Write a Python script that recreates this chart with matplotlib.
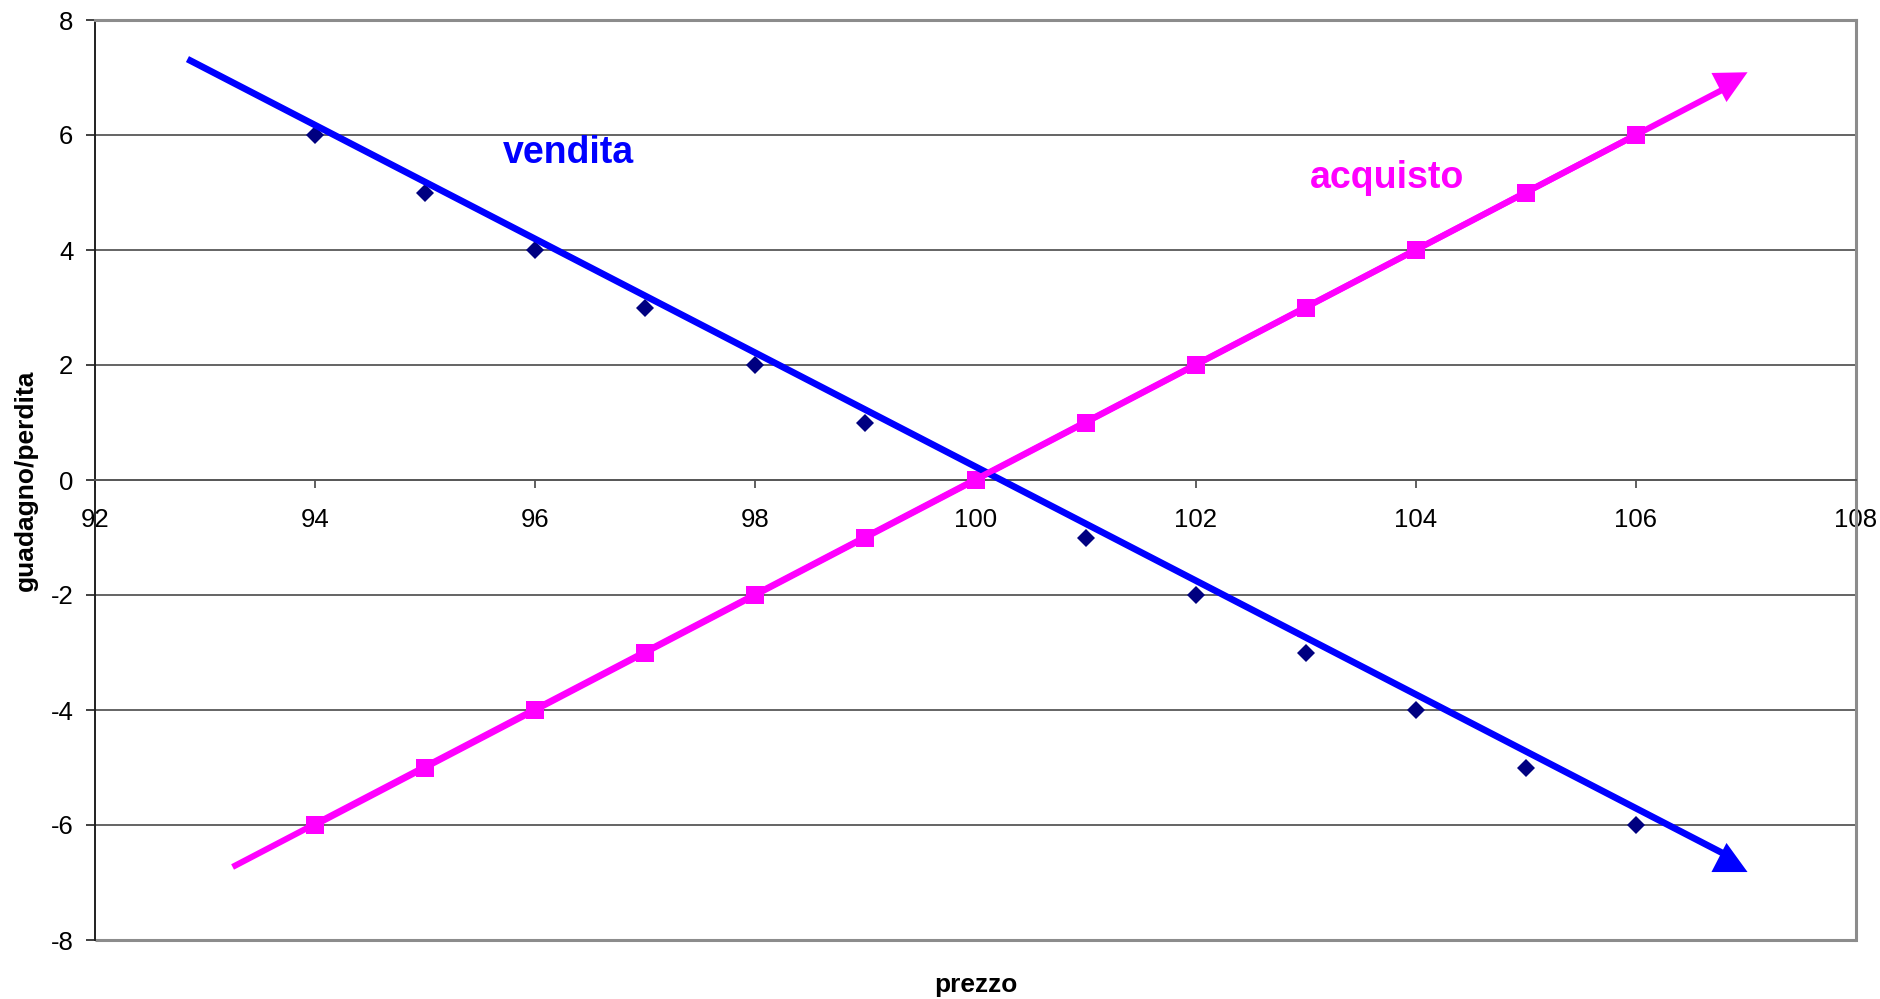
import matplotlib
matplotlib.use("Agg")
import matplotlib.pyplot as plt
from matplotlib.patches import Rectangle

plt.rcParams['font.family'] = ['Liberation Sans', 'DejaVu Sans']
plt.rcParams['axes.unicode_minus'] = False

# data
prezzo = [94, 95, 96, 97, 98, 99, 100, 101, 102, 103, 104, 105, 106]
acquisto = [-6, -5, -4, -3, -2, -1, 0, 1, 2, 3, 4, 5, 6]
vendita_x = [94, 95, 96, 97, 98, 99, 101, 102, 103, 104, 105, 106]
vendita_y = [6, 5, 4, 3, 2, 1, -1, -2, -3, -4, -5, -6]
# drawn trend arrows (start, end) and arrowhead positions
vendita_arrow_x = [92.84, 106.85]
vendita_arrow_y = [7.32, -6.55]
vendita_head = (106.85, -6.56)
acquisto_arrow_x = [93.25, 106.85]
acquisto_arrow_y = [-6.73, 6.85]
acquisto_head = (106.85, 6.83)
x_ticks = list(range(92, 109, 2))
y_ticks = list(range(-8, 9, 2))

BLUE = '#0000FF'
NAVY = '#000080'
MAGENTA = '#FF00FF'

fig = plt.figure(figsize=(18.81, 9.99), dpi=100)
ax = fig.add_axes([95/1881, 1-940/999, (1856-95)/1881, (940-20)/999])
ax.set_xlim(92, 108)
ax.set_ylim(-8, 8)

# gridlines
for yv in y_ticks:
    if yv not in (-8, 8, 0):
        ax.axhline(yv, color='#3a3a3a', lw=1.1, zorder=1)

# spines
for s in ('top', 'right'):
    ax.spines[s].set_color('#8c8c8c')
    ax.spines[s].set_linewidth(2.2)
ax.spines['left'].set_color('#202020')
ax.spines['left'].set_linewidth(1.4)
ax.spines['bottom'].set_position(('data', 0))
ax.spines['bottom'].set_color('#555555')
ax.spines['bottom'].set_linewidth(1.4)
ax.add_patch(Rectangle((0, 0), 1, 0.0001, transform=ax.transAxes, fill=False,
                       edgecolor='#8c8c8c', lw=2.2, clip_on=False, zorder=0))

ax.set_xticks(x_ticks)
ax.set_yticks(y_ticks)
ax.tick_params(axis='x', direction='out', length=6, width=1.2, pad=14,
               labelsize=18.5, colors='#444444', labelcolor='black')
ax.tick_params(axis='y', direction='out', length=6.5, width=1.2, pad=9,
               labelsize=18.5, colors='#202020', labelcolor='black')

# vendita scatter
ax.plot(vendita_x, vendita_y, linestyle='none', marker='D', markersize=9,
        color=NAVY, markeredgewidth=0, zorder=3)
# acquisto line
ax.plot(prezzo, acquisto, color=MAGENTA, lw=4.4, marker='s', markersize=12.5,
        markeredgewidth=0, zorder=3, solid_capstyle='butt')

# arrows (Excel-style triangle heads)
up_tri = [(-18, -14.5), (18, -14.5), (-3, 14.5), (-18, -14.5)]
down_tri = [(-18, 14.5), (18, 15.2), (-3, -14.5), (-18, 14.5)]
ax.plot(vendita_arrow_x, vendita_arrow_y, color=BLUE, lw=4.8,
        solid_capstyle='butt', zorder=4)
ax.plot([vendita_head[0]], [vendita_head[1]], marker=up_tri, markersize=26,
        color=BLUE, markeredgewidth=0, linestyle='none', zorder=5)
ax.plot(acquisto_arrow_x, acquisto_arrow_y, color=MAGENTA, lw=4.4,
        solid_capstyle='butt', zorder=4)
ax.plot([acquisto_head[0]], [acquisto_head[1]], marker=down_tri, markersize=26,
        color=MAGENTA, markeredgewidth=0, linestyle='none', zorder=5)

ax.text(96.3, 5.69, 'vendita', color=BLUE, fontsize=27, fontweight='bold',
        ha='center', va='center')
ax.text(103.74, 5.25, 'acquisto', color=MAGENTA, fontsize=27, fontweight='bold',
        ha='center', va='center')

fig.text(26/1881, 1-480/999, 'guadagno/perdita', rotation=90, ha='center',
         va='center', fontsize=19, fontweight='bold')
fig.text((95+1856)/2/1881, 1-985/999, 'prezzo', ha='center', va='center',
         fontsize=19, fontweight='bold')

fig.savefig('out.png', dpi=100)
